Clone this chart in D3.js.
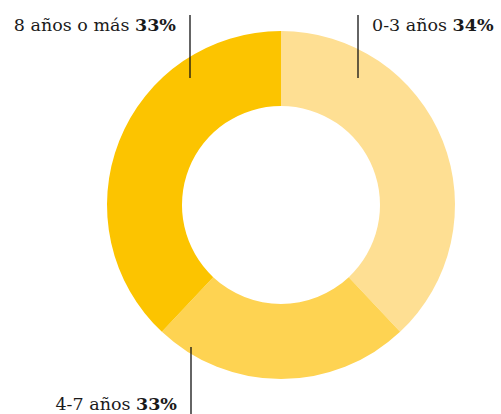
<!DOCTYPE html>
<html>
<head>
<meta charset="utf-8">
<script src="https://cdn.jsdelivr.net/npm/d3@7"></script>
<style>
  body { margin: 0; background: #fff; }
  text { font-family: "DejaVu Serif", "Liberation Serif", serif; fill: #1a1a1a; }
</style>
</head>
<body>
<div id="chart"></div>
<script>
// categories in drawing order (clockwise from top)
var categories = ["0-3 años", "4-7 años", "8 años o más"];
// percentages printed in the labels
var labelPct = [34, 33, 33];
// slice sizes as drawn in the picture (share of the ring)
var sliceShare = [38, 24, 38];
var colors = ["#fedf93", "#fed352", "#fcc400"];

var width = 501, height = 414;
var cx = 281, cy = 205;
var outerR = 174, innerR = 99;

var svg = d3.select("#chart")
	.append("svg")
	.attr("width", width)
	.attr("height", height);

var data = categories.map(function(c, i) {
	return { name: c, share: sliceShare[i], pct: labelPct[i], color: colors[i] };
});

var pie = d3.pie()
	.sort(null)
	.value(function(d) { return d.share; });

var arc = d3.arc()
	.innerRadius(innerR)
	.outerRadius(outerR);

var g = svg.append("g")
	.attr("transform", "translate(" + cx + "," + cy + ")");

g.selectAll("path")
	.data(pie(data))
	.enter()
	.append("path")
	.attr("d", arc)
	.attr("fill", function(d) { return d.data.color; });

/**  labels with leader lines  **/
var labels = [
	{ i: 0, lx: 358, y1: 15, y2: 78, tx: 372, ty: 31, anchor: "start" },
	{ i: 1, lx: 191, y1: 347, y2: 414, tx: 177, ty: 410, anchor: "end" },
	{ i: 2, lx: 190, y1: 15, y2: 78, tx: 176, ty: 31, anchor: "end" }
];

labels.forEach(function(l) {
	svg.append("line")
		.attr("x1", l.lx).attr("x2", l.lx)
		.attr("y1", l.y1).attr("y2", l.y2)
		.attr("stroke", "#111")
		.attr("stroke-width", 1.3);

	var t = svg.append("text")
		.attr("x", l.tx)
		.attr("y", l.ty)
		.attr("text-anchor", l.anchor)
		.style("font-size", "17.5px");
	t.append("tspan").text(data[l.i].name + " ");
	t.append("tspan").style("font-weight", "bold").text(data[l.i].pct + "%");
});
</script>
</body>
</html>
